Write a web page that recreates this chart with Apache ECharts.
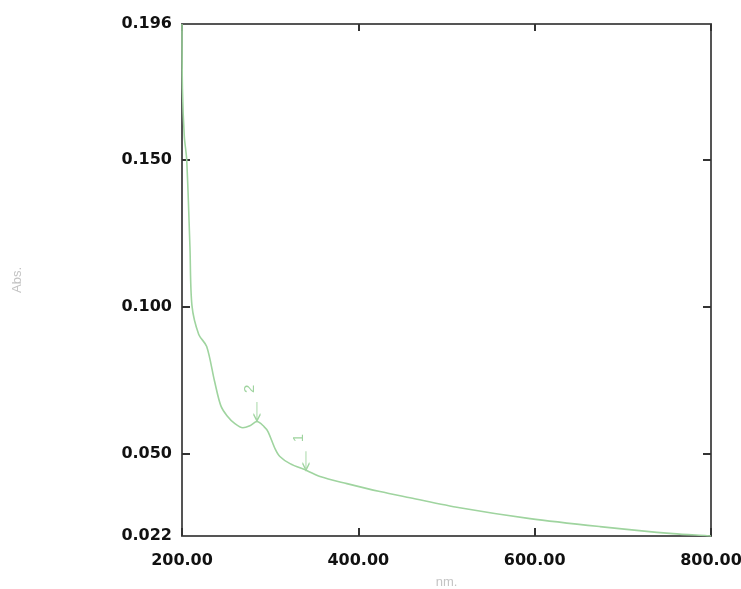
<!DOCTYPE html>
<html>
<head>
<meta charset="utf-8">
<script src="https://cdn.jsdelivr.net/npm/echarts@6/dist/echarts.min.js"></script>
<style>
    html, body { margin: 0; padding: 0; background: #fff; }
    #chart { width: 741px; height: 589px; }
</style>
</head>
<body>
<div id="chart"></div>
<script>
    /*波长 nm*/
    var wavelength = [200, 200.5, 202.6, 205.3, 209, 211.3, 219, 228, 237, 244, 251, 260, 269, 277, 285, 293, 297.5, 305.5, 311, 322.5, 342, 356.5, 387, 424.5, 458.6, 515, 594.7, 674, 757, 795.5, 800];
    /*吸光度 Abs.*/
    var absorbance = [0.196, 0.174, 0.1578, 0.150, 0.1204, 0.1003, 0.0905, 0.0864, 0.0745, 0.0663, 0.0629, 0.0602, 0.0588, 0.0595, 0.0609, 0.0592, 0.0575, 0.0517, 0.0490, 0.0466, 0.0442, 0.0422, 0.0398, 0.0371, 0.0350, 0.0316, 0.0279, 0.0252, 0.0228, 0.0221, 0.0220];
    /*峰标记*/
    var peakNames = ['2', '1'];
    var peakNm = [285, 340.6];
    var peakAbs = [0.0609, 0.0442];
    /*刻度*/
    var yLabelValues = [0.022, 0.050, 0.100, 0.150, 0.196];
    var yTickValues = [0.050, 0.100, 0.150];

    var lineColor = '#9fd49f';
    var axisColor = '#555';
    var labelFont = { color: '#111', fontSize: 16, fontWeight: 'bold', fontFamily: 'DejaVu Sans' };

    var chart = echarts.init(document.getElementById('chart'));

    var points = wavelength.map(function (w, i) { return [w, absorbance[i]]; });
    var peaks = peakNm.map(function (w, i) {
        return { name: peakNames[i], coord: [w, peakAbs[i]] };
    });

    var option = {
        animation: false,
        grid: { left: 182, right: 30, top: 24, bottom: 53, containLabel: false, outerBoundsMode: 'none' },
        xAxis: [{
            type: 'value',
            min: 200,
            max: 800,
            interval: 200,
            name: 'nm.',
            nameLocation: 'middle',
            nameGap: 40,
            nameTextStyle: { color: '#c4c4c4', fontSize: 13, fontFamily: 'Liberation Sans' },
            axisLine: { show: true, lineStyle: { color: axisColor, width: 2 } },
            axisTick: { show: true, inside: true, length: 8, lineStyle: { color: '#333', width: 2 } },
            axisLabel: Object.assign({ margin: 17, formatter: function (v) { return v.toFixed(2); } }, labelFont),
            splitLine: { show: false }
        }, {
            type: 'value',
            position: 'top',
            min: 200,
            max: 800,
            interval: 200,
            axisLine: { show: true, lineStyle: { color: axisColor, width: 2 } },
            axisTick: { show: true, inside: true, length: 7, lineStyle: { color: '#333', width: 2 } },
            axisLabel: { show: false },
            splitLine: { show: false }
        }],
        yAxis: [{
            type: 'value',
            min: 0.022,
            max: 0.196,
            name: 'Abs.',
            nameLocation: 'middle',
            nameGap: 158,
            nameRotate: 90,
            nameTextStyle: { color: '#c4c4c4', fontSize: 13, fontFamily: 'Liberation Sans' },
            axisLine: { show: true, lineStyle: { color: axisColor, width: 2 } },
            axisTick: { show: true, inside: true, length: 8, customValues: yTickValues, lineStyle: { color: '#333', width: 2 } },
            axisLabel: Object.assign({ margin: 10, customValues: yLabelValues, formatter: function (v) { return v.toFixed(3); } }, labelFont),
            splitLine: { show: false }
        }, {
            type: 'value',
            position: 'right',
            min: 0.022,
            max: 0.196,
            axisLine: { show: true, lineStyle: { color: axisColor, width: 2 } },
            axisTick: { show: true, inside: true, length: 8, customValues: yTickValues, lineStyle: { color: '#333', width: 2 } },
            axisLabel: { show: false },
            splitLine: { show: false }
        }],
        series: [{
            type: 'line',
            data: points,
            smooth: 0.3,
            symbol: 'none',
            lineStyle: { color: lineColor, width: 1.6 },
            markPoint: {
                symbol: 'path://M4,0 L4,14 M0,10 L4,16 L8,10',
                symbolSize: [7, 19],
                symbolOffset: [0, -10],
                itemStyle: { color: 'none', borderColor: lineColor, borderWidth: 1.5 },
                label: {
                    show: true,
                    position: 'top',
                    distance: 9,
                    rotate: 90,
                    color: lineColor,
                    fontSize: 15,
                    fontFamily: 'Liberation Sans',
                    formatter: '{b}'
                },
                data: peaks
            }
        }]
    };
    chart.setOption(option);
</script>
</body>
</html>
